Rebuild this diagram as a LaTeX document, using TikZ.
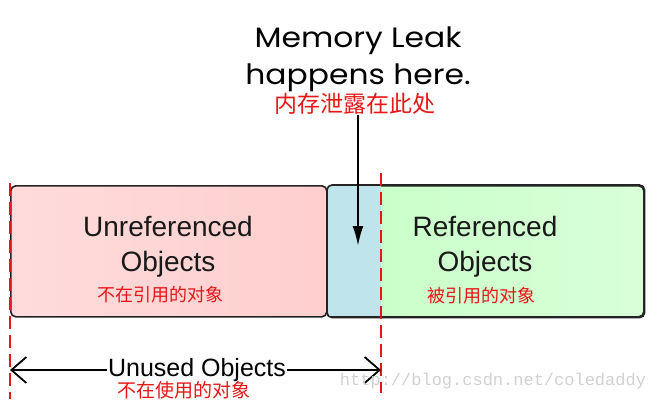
\documentclass[tikz,border=0pt]{standalone}
\usepackage{fontspec}
\setmainfont{Liberation Sans}
\setmonofont{Liberation Mono}
\newfontfamily\cjk{Noto Sans CJK SC}
\newfontfamily\gothic[FakeStretch=1.12]{Poppins}
\usetikzlibrary{positioning,arrows.meta}
\definecolor{leakred}{RGB}{232,22,22}
\definecolor{edgegray}{RGB}{35,35,35}
\definecolor{leakblue}{RGB}{192,228,236}

\begin{document}
\begin{tikzpicture}[x=1pt,y=-1pt]
  \tikzstyle{objbox}=[draw=edgegray, line width=1.6pt, rounded corners=5pt, minimum height=131pt, anchor=north west, inner sep=0pt]
  \tikzstyle{label}=[align=center, font=\fontsize{28}{35}\selectfont, text=black!90]
  \tikzstyle{cn}=[text=leakred, font=\cjk\fontsize{18}{20}\selectfont, inner sep=0pt]
  \tikzstyle{boundary}=[draw=leakred, line width=1.8pt, dash pattern=on 13pt off 6pt]
  \tikzstyle{barb}=[line width=1.8pt, -{Straight Barb[length=15pt,width=26pt,line width=1.8pt]}]
  \useasboundingbox (0,0) rectangle (650,400);

  % boxes
  \node[objbox, minimum width=316pt, left color=red!14, right color=red!19] (unref) at (10,185) {};
  \node[objbox, minimum width=316pt, left color=green!22, right color=green!15] (ref) at (327,185) {};
  \begin{scope}
    \clip[rounded corners=5pt] (ref.north west) rectangle (ref.south east);
    \fill[leakblue] (ref.north west) rectangle (381,316);
  \end{scope}
  \draw[edgegray, line width=1.6pt, rounded corners=5pt] (ref.north west) rectangle (ref.south east);

  \node[label] (unreftext) at (168,247) {Unreferenced\\Objects};
  \node[cn] (unrefcn) at (160,295) {不在引用的对象};
  \node[label] (reftext) at (485,247) {Referenced\\Objects};
  \node[cn] (refcn) at (481,296) {被引用的对象};

  % where the leak is
  \node[align=center, font=\gothic\fontsize{28}{37}\selectfont] (leak) at (358,59) {Memory Leak\\happens here.};
  \node[cn, font=\cjk\fontsize{23}{26}\selectfont] (leakcn) at (355,104) {内存泄露在此处};
  \coordinate (leakpoint) at (358,246);
  \draw[line width=2.2pt, -{Latex[length=20pt,width=11pt]}] (leakpoint |- leakcn.south) -- (leakpoint);

  % boundaries of the unused objects
  \coordinate (ltop) at (10,183);
  \coordinate (lbot) at (10,399);
  \coordinate (rtop) at (381,173);
  \coordinate (rbot) at (381,393);
  \draw[boundary] (ltop) -- (lbot);
  \draw[boundary] (rtop) -- (rbot);

  \node[font=\fontsize{25}{28}\selectfont, fill=white, inner sep=1pt] (unused) at (197,370) {Unused Objects};
  \coordinate (uleft) at (10,370);
  \coordinate (uright) at (381,370);
  \draw[barb] (unused.west) -- (uleft);
  \draw[barb] (unused.east) -- (uright);
  \node[cn, font=\cjk\fontsize{19}{22}\selectfont] (unusedcn) at (184,390) {不在使用的对象};

  \node[font=\ttfamily\fontsize{17}{20}\selectfont, text=black!18] (mark) at (493,381) {http://blog.csdn.net/coledaddy};
\end{tikzpicture}
\end{document}
